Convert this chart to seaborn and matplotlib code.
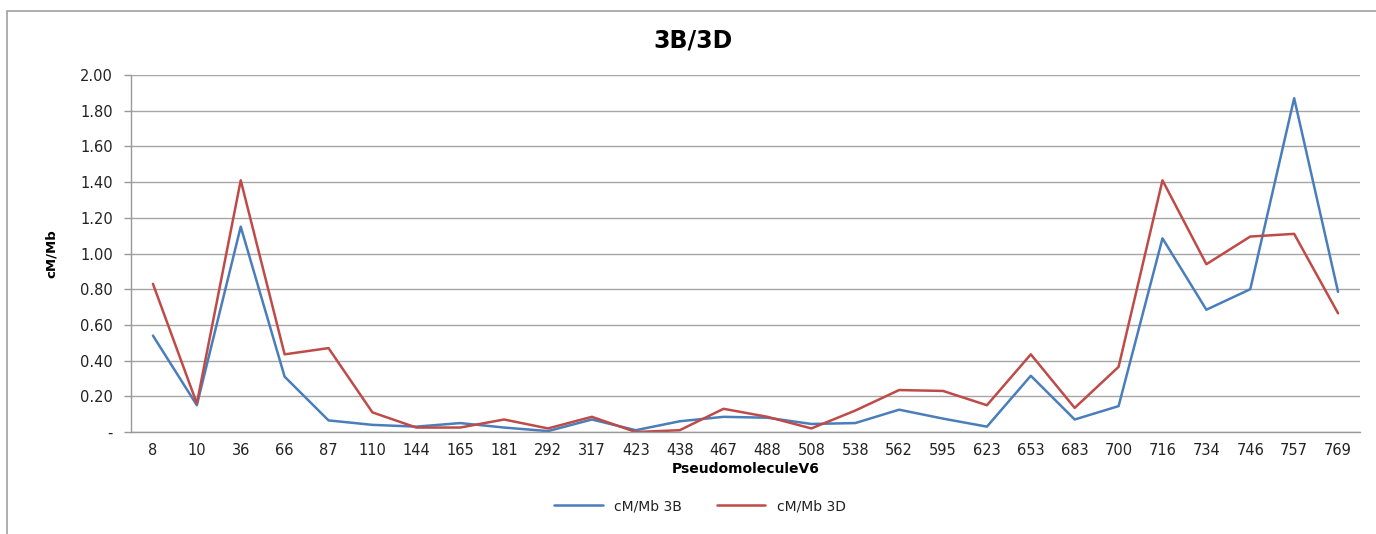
import numpy as np
import pandas as pd
import matplotlib.pyplot as plt
import seaborn as sns
from matplotlib.patches import Rectangle

# INPUT
positions = ["8", "10", "36", "66", "87", "110", "144", "165", "181", "292", "317", "423", "438", "467",
             "488", "508", "538", "562", "595", "623", "653", "683", "700", "716", "734", "746", "757", "769"]
cm_mb_3b = [0.54, 0.15, 1.15, 0.31, 0.065, 0.04, 0.03, 0.05, 0.025, 0.005, 0.07, 0.01, 0.06, 0.085,
            0.08, 0.045, 0.05, 0.125, 0.075, 0.03, 0.315, 0.07, 0.145, 1.085, 0.685, 0.80, 1.87, 0.785]
cm_mb_3d = [0.83, 0.16, 1.41, 0.435, 0.47, 0.11, 0.025, 0.025, 0.07, 0.02, 0.085, 0.0, 0.01, 0.13,
            0.085, 0.02, 0.12, 0.235, 0.23, 0.15, 0.435, 0.135, 0.365, 1.41, 0.94, 1.095, 1.11, 0.665]
series_names = ["cM/Mb 3B", "cM/Mb 3D"]

idx = np.arange(len(positions))
df = pd.DataFrame({
    "pos": np.concatenate([idx, idx]),
    "value": cm_mb_3b + cm_mb_3d,
    "series": [series_names[0]] * len(positions) + [series_names[1]] * len(positions),
})

sns.set_style("white")
plt.rcParams['font.family'] = ['DejaVu Sans']

fig = plt.figure(figsize=(13.76, 5.34), dpi=100)
ax = fig.add_axes([131 / 1376, 102 / 534, 1229 / 1376, 357 / 534])

sns.lineplot(data=df, x="pos", y="value", hue="series", palette=["#4A7EBB", "#BE4B48"],
             linewidth=1.8, ax=ax, legend=True)

ax.set_xlim(-0.5, len(positions) - 0.5)
ax.set_ylim(0, 2.0)
yt = np.arange(0, 2.01, 0.2)
ax.set_yticks(yt)
ax.set_yticklabels(["-"] + [f"{v:.2f}" for v in yt[1:]], fontsize=10.5, color="#222222")
ax.set_xticks(idx)
ax.set_xticklabels(positions, fontsize=10.5, color="#222222")
ax.set_xticks(np.arange(-0.5, len(positions), 1), minor=True)
ax.tick_params(axis="x", which="major", length=0, pad=8)
ax.tick_params(axis="x", which="minor", length=5, color="#999999", width=1)
ax.tick_params(axis="y", length=5, color="#999999", width=1, pad=8, left=True)
ax.grid(axis="y", color="#a6a6a6", linewidth=1)
ax.set_axisbelow(True)
for s in ["top", "right"]:
    ax.spines[s].set_visible(False)
for s in ["left", "bottom"]:
    ax.spines[s].set_color("#999999")
    ax.spines[s].set_linewidth(1)

ax.set_xlabel("PseudomoleculeV6", fontsize=10, fontweight="bold", labelpad=3, color="black")
ax.set_ylabel("cM/Mb", fontsize=9.5, fontweight="bold", labelpad=16, color="black")
fig.text(693 / 1376, 1 - 40 / 534, "3B/3D", ha="center", va="center", fontsize=17,
         fontweight="bold", color="black")

handles, labels = ax.get_legend_handles_labels()
leg = ax.legend(handles, labels, loc="center", bbox_to_anchor=(700 / 1376, 28 / 534),
                bbox_transform=fig.transFigure, ncol=2, frameon=False, fontsize=10,
                handlelength=3.5, columnspacing=2.5)
for t in leg.get_texts():
    t.set_color("#222222")

# outer chart border
fig.patches.append(Rectangle((7 / 1376, -0.2), 1.2, 1.2 - 11 / 534,
                             transform=fig.transFigure, fill=False, edgecolor="#a0a0a0", linewidth=1.2))

fig.savefig("out.png", dpi=100)
